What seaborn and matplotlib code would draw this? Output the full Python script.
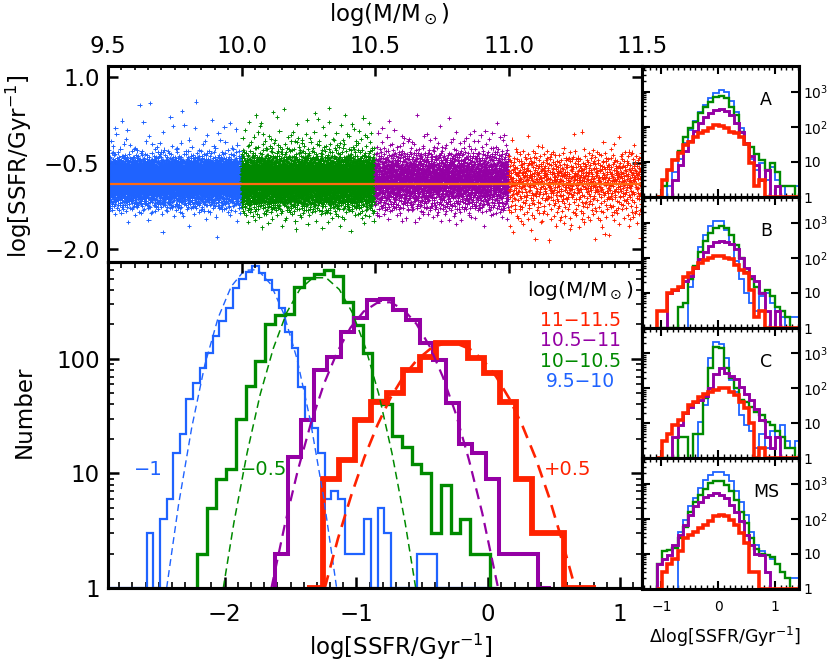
import numpy as np
import pandas as pd
import matplotlib
matplotlib.use("Agg")
import matplotlib.pyplot as plt
import seaborn as sns
from matplotlib.ticker import MultipleLocator, LogLocator, NullFormatter

sns.set_theme(style="ticks")
plt.rcParams['font.family'] = ['DejaVu Sans']
plt.rcParams['mathtext.fontset'] = 'dejavusans'
plt.rcParams['axes.linewidth'] = 2.2
for key in ['text.color', 'axes.labelcolor', 'xtick.color', 'ytick.color', 'axes.edgecolor']:
    plt.rcParams[key] = 'black'

# ---- data ----
bin_names = ['9.5−10', '10−10.5', '10.5−11', '11−11.5']
mass_lo = [9.5, 10.0, 10.5, 11.0]
mass_hi = [10.0, 10.5, 11.0, 11.5]
colors = ['#1f63ff', '#008a00', '#9400a4', '#ff2200']
shifts = [-1.0, -0.5, 0.0, 0.5]
shift_text = ['−1', '−0.5', '', '+0.5']

# main histograms (shifted log SSFR): first bin edge, bin width, counts
blue_start, blue_width = -2.89, 0.05
blue_counts = [0, 0, 0, 0, 0, 0,
               3, 0, 4, 6, 15, 22, 45, 62, 83, 112, 157, 212, 280, 415, 500, 570, 650, 558,
               489, 400, 277, 173, 124, 57, 30, 25, 15, 6, 7, 6, 2, 2, 2, 4, 0, 5, 3, 0, 0,
               0, 0, 2, 2, 2, 0, 0, 0, 0, 0, 0, 0, 0, 0]
green_start, green_width = -2.21, 0.074
green_counts = [2, 5, 9, 11, 30, 58, 96, 200, 241, 245, 425, 505, 555, 595, 530, 315, 197,
                112, 44, 40, 21, 17, 12, 10, 3, 8, 3, 4, 2, 2]
purple_start, purple_width = -1.62, 0.1
purple_counts = [2, 14, 29, 80, 104, 172, 226, 326, 335, 266, 218, 137, 98, 41, 18, 15, 9,
                 2, 2, 2, 0]
red_start, red_width = -1.375, 0.122
red_counts = [0, 9, 13, 29, 42, 50, 80, 104, 137, 137, 101, 75, 42, 9, 3, 3, 0, 0]

# gaussian fits (dashed)
blue_fit_x = [-2.44, -2.35, -2.25, -2.15, -2.05, -1.95, -1.85, -1.75, -1.65, -1.55, -1.45,
              -1.35, -1.25, -1.15]
blue_fit_n = [1.0, 5.3, 25, 89, 227, 428, 592, 600, 448, 245, 99, 29, 6.3, 1.0]
green_fit_x = [-2.01, -1.93, -1.83, -1.73, -1.63, -1.53, -1.43, -1.33, -1.23, -1.13, -1.03,
               -0.93, -0.83, -0.73, -0.63, -0.55]
green_fit_n = [1.0, 3.7, 15, 49, 124, 252, 403, 510, 510, 403, 252, 124, 49, 15, 3.7, 1.0]
purple_fit_x = [-1.645, -1.545, -1.445, -1.345, -1.245, -1.145, -1.045, -0.945, -0.845, -0.745,
                -0.645, -0.545, -0.445, -0.345, -0.245, -0.145, -0.045, 0.075]
purple_fit_n = [1.0, 3.5, 10.6, 27.5, 61, 115, 187, 259, 307, 312, 271, 202, 129, 70, 33, 13,
                4.5, 1.0]
red_fit_x = [-1.24, -1.14, -1.04, -0.94, -0.84, -0.74, -0.64, -0.54, -0.44, -0.34, -0.24,
             -0.14, -0.04, 0.06, 0.16, 0.26, 0.36, 0.46, 0.56, 0.66]
red_fit_n = [1.0, 2.7, 6.4, 13.8, 26.5, 46, 71, 98, 122, 136, 136, 122, 98, 70, 45, 26, 13.6,
             6.3, 2.6, 1.0]

# mean relation in the top panel
fit_mass = [9.5, 11.5]
fit_ssfr = [-0.87, -0.87]

# small panels: delta log SSFR histograms
d_start, d_width = -1.075, 0.09
panel_names = ['A', 'B', 'C', 'MS']
A_blue = [0, 0, 2, 5, 12, 35, 80, 150, 260, 420, 640, 900, 1100, 950, 550, 260, 90, 30, 12, 6, 9, 3, 7, 3, 2, 1, 0, 2]
A_green = [0, 2, 6, 11, 21, 52, 90, 140, 240, 370, 520, 690, 750, 640, 370, 215, 72, 33, 27, 17, 11, 6, 9, 5, 2, 2, 2, 0]
A_purple = [0, 0, 0, 3, 8, 20, 40, 75, 130, 190, 250, 300, 320, 290, 220, 130, 70, 35, 15, 8, 3, 6, 1, 2, 0, 0, 0, 0]
A_red = [0, 3, 6, 11, 18, 30, 38, 50, 65, 77, 95, 111, 107, 90, 72, 65, 52, 33, 9, 2, 3, 0, 0, 0, 0, 0, 0, 0]
B_blue = [0, 0, 0, 0, 0, 0, 15, 60, 200, 450, 800, 1100, 1150, 600, 250, 80, 25, 10, 5, 3, 8, 10, 5, 3, 2, 1, 2, 2]
B_green = [0, 0, 0, 0, 4, 5, 25, 60, 150, 300, 500, 700, 800, 700, 450, 230, 100, 40, 25, 15, 10, 12, 8, 4, 3, 2, 1, 0]
B_purple = [0, 0, 10, 12, 15, 22, 30, 50, 90, 150, 220, 280, 300, 290, 250, 180, 100, 50, 30, 22, 10, 3, 1, 3, 0, 0, 0, 0]
B_red = [3, 3, 10, 12, 15, 29, 36, 50, 70, 88, 100, 109, 109, 100, 95, 63, 45, 36, 12, 2, 3, 0, 0, 0, 0, 0, 0, 0]
C_blue = [0, 0, 0, 0, 0, 0, 0, 0, 11, 33, 720, 2100, 1900, 720, 170, 80, 17, 9, 6, 2, 5, 2, 6, 4, 9, 3, 2, 3]
C_green = [0, 0, 0, 0, 4, 4, 0, 5, 5, 52, 370, 1550, 1400, 370, 200, 100, 46, 40, 30, 21, 17, 11, 9, 6, 4, 2, 2, 0]
C_purple = [0, 0, 0, 4, 9, 20, 30, 40, 45, 60, 100, 250, 370, 280, 220, 180, 110, 70, 45, 25, 12, 4, 2, 4, 1, 0, 0, 0]
C_red = [0, 3, 5, 9, 12, 20, 33, 41, 58, 70, 80, 90, 100, 100, 80, 64, 41, 27, 10, 0, 2, 0, 0, 0, 0, 0, 0, 0]
MS_blue = [0, 0, 0, 0, 43, 94, 225, 390, 750, 1300, 1800, 2200, 2200, 1800, 1170, 600, 310, 130, 43, 18, 12, 9, 7, 5, 3, 2, 2, 2]
MS_green = [5, 12, 13, 15, 28, 60, 160, 310, 490, 700, 1050, 1170, 1170, 940, 600, 350, 160, 75, 28, 14, 10, 9, 8, 5, 3, 2, 0, 0]
MS_purple = [5, 7, 9, 18, 35, 67, 130, 225, 310, 430, 490, 540, 490, 390, 250, 160, 84, 35, 18, 10, 9, 3, 0, 0, 0, 0, 0, 0]
MS_red = [0, 3, 5, 7, 12, 28, 35, 43, 54, 67, 84, 116, 130, 116, 94, 67, 39, 20, 3, 3, 0, 0, 0, 0, 0, 0, 0, 0]

hist_start = [blue_start, green_start, purple_start, red_start]
hist_width = [blue_width, green_width, purple_width, red_width]
hist_counts = [blue_counts, green_counts, purple_counts, red_counts]
fits_x = [blue_fit_x, green_fit_x, purple_fit_x, red_fit_x]
fits_n = [blue_fit_n, green_fit_n, purple_fit_n, red_fit_n]
panels = [[A_blue, A_green, A_purple, A_red], [B_blue, B_green, B_purple, B_red],
          [C_blue, C_green, C_purple, C_red], [MS_blue, MS_green, MS_purple, MS_red]]


def halton(n, base):
    # radical inverse, deterministic low-discrepancy sequence
    out = np.zeros(n)
    for i in range(n):
        f, r, k = 1.0, 0.0, i + 1
        while k > 0:
            f /= base
            r += f * (k % base)
            k //= base
        out[i] = r
    return out


# ---- top-panel points: one per galaxy counted in the lower histograms ----
# individual masses can't be read, so galaxies are laid out over their mass bin
# with a Halton sequence; their SSFR follows the histogram's cumulative counts
frames = []
for k in range(4):
    c = np.array(hist_counts[k], dtype=float)
    n = int(c.sum())
    edges = hist_start[k] + hist_width[k] * np.arange(len(c) + 1)
    cdf = np.concatenate([[0], np.cumsum(c)]) / c.sum()
    keep = np.concatenate([[True], np.diff(cdf) > 0])
    hx = halton(n + 300 * k, 2)[300 * k:]
    hy = halton(n + 300 * k, 3)[300 * k:]
    ssfr = np.interp(hy, cdf[keep], edges[keep]) - shifts[k]
    mass = mass_lo[k] + (mass_hi[k] - mass_lo[k]) * hx
    frames.append(pd.DataFrame({'mass': mass, 'ssfr': ssfr, 'bin': bin_names[k]}))
pts = pd.concat(frames, ignore_index=True)

W, H = 830, 663
def box(l, t, r, b):
    return [l / W, 1 - b / H, (r - l) / W, (b - t) / H]

fig = plt.figure(figsize=(8.3, 6.63), dpi=100)
ax_sc = fig.add_axes(box(108, 66, 642, 262))
ax_h = fig.add_axes(box(108, 262, 642, 588))
tops = [66, 197, 328, 458]
bots = [197, 328, 458, 589]
ax_r = [fig.add_axes(box(642, t, 799, b)) for t, b in zip(tops, bots)]

FS = 16.5

# ---- top scatter ----
sns.scatterplot(data=pts, x='mass', y='ssfr', hue='bin', hue_order=bin_names, palette=colors,
                marker='+', s=9, linewidth=0.7, legend=False, ax=ax_sc)
sns.lineplot(x=fit_mass, y=fit_ssfr, color='#ff6a10', lw=1.6, ax=ax_sc)
ax_sc.set_xlim(9.5, 11.5)
ax_sc.set_ylim(-2.23, 1.19)
ax_sc.set_xlabel('')
ax_sc.set_ylabel('')
ax_sc.xaxis.tick_top()
ax_sc.set_xticks([9.5, 10.0, 10.5, 11.0, 11.5])
ax_sc.set_xticklabels(['9.5', '10.0', '10.5', '11.0', '11.5'])
ax_sc.xaxis.set_minor_locator(MultipleLocator(0.05))
ax_sc.set_yticks([1.0, -0.5, -2.0])
ax_sc.set_yticklabels(['1.0', '−0.5', '−2.0'])
ax_sc.tick_params(axis='both', which='major', direction='in', length=7, width=1.8,
                  labelsize=FS, right=True, top=True, bottom=False, pad=6)
ax_sc.tick_params(axis='x', which='minor', direction='in', length=3, width=1.2, top=True, bottom=False)

# ---- bottom histograms ----
lws = [1.6, 2.4, 2.9, 4.2]
fit_lw = [1.0, 1.1, 1.6, 1.9]
for k in range(4):
    c = np.array(hist_counts[k])
    edges = hist_start[k] + hist_width[k] * np.arange(len(c) + 1)
    ax_h.stairs(np.maximum(c, 1), edges, color=colors[k], lw=lws[k], baseline=1)
for k in range(4):
    sns.lineplot(x=fits_x[k], y=fits_n[k], color=colors[k], lw=fit_lw[k],
                 linestyle=(0, (5, 3)), ax=ax_h)
ax_h.set_yscale('log')
ax_h.set_xlim(-2.885, 1.167)
ax_h.set_ylim(1, 700)
ax_h.set_xticks([-2, -1, 0, 1])
ax_h.set_xticklabels(['−2', '−1', '0', '1'])
ax_h.xaxis.set_minor_locator(MultipleLocator(0.1))
ax_h.set_yticks([1, 10, 100])
ax_h.set_yticklabels(['1', '10', '100'])
ax_h.yaxis.set_minor_locator(LogLocator(base=10, subs=np.arange(2, 10)))
ax_h.yaxis.set_minor_formatter(NullFormatter())
ax_h.tick_params(axis='both', which='major', direction='in', length=8, width=1.8,
                 labelsize=FS, right=True, top=False, pad=6)
ax_h.tick_params(axis='x', which='major', pad=11)
ax_h.tick_params(axis='both', which='minor', direction='in', length=4, width=1.2,
                 right=True, top=False)
ax_h.set_xlabel('')
ax_h.set_ylabel('')

# mass ticks on the shared border, pointing into the lower panel
ax_m = ax_h.twiny()
ax_m.set_xlim(9.5, 11.5)
ax_m.set_xticks([10.0, 10.5, 11.0])
ax_m.xaxis.set_minor_locator(MultipleLocator(0.05))
ax_m.tick_params(axis='x', which='major', direction='in', length=8, width=1.8, labeltop=False)
ax_m.tick_params(axis='x', which='minor', direction='in', length=4, width=1.2)

ax_h.text(0.884, 0.914, r'log(M/M$_\odot$)', transform=ax_h.transAxes, ha='center',
          va='center', fontsize=14.5, color='black')
leg_y = [0.632, 0.696, 0.758, 0.822]
for k in range(4):
    ax_h.text(0.884, leg_y[k], bin_names[k], transform=ax_h.transAxes, ha='center',
              va='center', fontsize=13.5, color=colors[k])
shift_x = [0.075, 0.292, None, 0.861]
for k in range(4):
    if shift_text[k]:
        ax_h.text(shift_x[k], 0.362, shift_text[k], transform=ax_h.transAxes, ha='center',
                  va='center', fontsize=14, color=colors[k])

# ---- right-hand panels ----
r_lws = [1.3, 1.7, 2.1, 2.6]
for p, ax in enumerate(ax_r):
    for k in range(4):
        c = np.array(panels[p][k])
        edges = d_start + d_width * np.arange(len(c) + 1)
        ax.stairs(np.maximum(c, 1), edges, color=colors[k], lw=r_lws[k], baseline=1)
    ax.set_yscale('log')
    ax.set_xlim(-1.34, 1.42)
    ax.set_ylim(1, 10 ** 3.73)
    ax.set_yticks([1, 10, 100, 1000])
    ax.set_yticklabels(['1', '10', r'10$^2$', r'10$^3$'])
    ax.yaxis.set_minor_locator(LogLocator(base=10, subs=np.arange(2, 10)))
    ax.yaxis.set_minor_formatter(NullFormatter())
    ax.yaxis.tick_right()
    ax.set_xticks([-1, 0, 1])
    ax.set_xticklabels(['−1', '0', '1'])
    ax.xaxis.set_minor_locator(MultipleLocator(0.1))
    ax.tick_params(axis='both', which='major', direction='in', length=6, width=1.5,
                   labelsize=10, left=True, right=True, top=True, bottom=True, pad=3)
    ax.tick_params(axis='both', which='minor', direction='in', length=3, width=1.0,
                   left=True, right=False, top=True, bottom=True)
    ax.tick_params(axis='x', labelbottom=(p == 3), pad=8)
    ax.text(0.79, 0.74, panel_names[p], transform=ax.transAxes, ha='center', va='center',
            fontsize=12.5, color='black')

# ---- axis titles ----
fig.text(389 / W, 1 - 15 / H, r'log(M/M$_\odot$)', ha='center', va='center', fontsize=FS)
fig.text(19 / W, 1 - 166 / H, r'log[SSFR/Gyr$^{-1}$]', ha='center', va='center',
         fontsize=FS, rotation=90)
fig.text(24 / W, 1 - 412 / H, 'Number', ha='center', va='center', fontsize=FS, rotation=90)
fig.text(401 / W, 1 - 647 / H, r'log[SSFR/Gyr$^{-1}$]', ha='center', va='center', fontsize=FS)
fig.text(725 / W, 1 - 637 / H, r'$\Delta$log[SSFR/Gyr$^{-1}$]', ha='center', va='center',
         fontsize=12.5)

fig.savefig('out.png', dpi=100)
